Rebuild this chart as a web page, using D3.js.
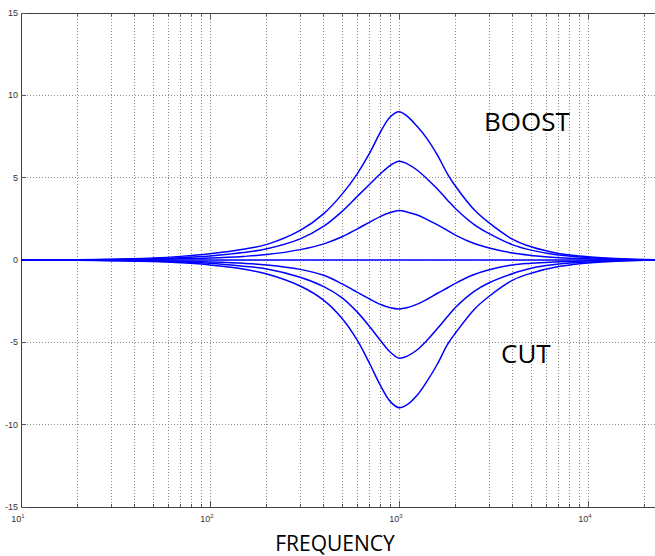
<!DOCTYPE html>
<html>
<head>
<meta charset="utf-8">
<script src="https://cdn.jsdelivr.net/npm/d3@7"></script>
<style>
  body { margin: 0; background: #fff; }
  .tick-label { font-family: "Liberation Sans", Arial, sans-serif; font-size: 9px; fill: #333; }
  .big-label { font-family: "Open Sans", "Noto Sans", sans-serif; fill: #000; }
</style>
</head>
<body>
<div id="chart"></div>
<script>
// frequency sample points (Hz)
var freqs = [10, 20, 30, 50, 70, 100, 150, 200, 300, 400, 500, 600, 700, 800, 900,
             1000, 1100, 1250, 1400, 1600, 1800, 2000, 2500, 3000, 4000, 5000, 7000, 10000, 15000, 24000];

// gain (dB) of each curve at those frequencies
var boost9 = [0, 0.02, 0.05, 0.12, 0.22, 0.38, 0.65, 0.95, 1.8, 2.82, 4.0, 5.22, 6.5, 7.8, 8.7,
              9.0, 8.75, 8.1, 7.4, 6.35, 5.25, 4.45, 3.05, 2.25, 1.25, 0.8, 0.4, 0.2, 0.08, 0];
var boost6 = [0, 0.01, 0.03, 0.07, 0.14, 0.25, 0.45, 0.68, 1.28, 2.05, 2.95, 3.85, 4.6, 5.25, 5.75,
              6.0, 5.85, 5.45, 4.95, 4.3, 3.65, 3.1, 2.15, 1.6, 0.92, 0.6, 0.3, 0.15, 0.05, 0];
var boost3 = [0, 0.01, 0.02, 0.04, 0.07, 0.12, 0.22, 0.33, 0.63, 0.98, 1.41, 1.88, 2.3, 2.65, 2.88,
              3.0, 2.92, 2.73, 2.47, 2.13, 1.8, 1.5, 1.0, 0.73, 0.42, 0.28, 0.14, 0.07, 0.03, 0];
var flat0  = [0, 0, 0, 0, 0, 0, 0, 0, 0, 0, 0, 0, 0, 0, 0,
              0, 0, 0, 0, 0, 0, 0, 0, 0, 0, 0, 0, 0, 0, 0];
var cut3   = [0, -0.01, -0.02, -0.04, -0.07, -0.12, -0.2, -0.3, -0.57, -0.93, -1.45, -1.95, -2.37, -2.7, -2.9,
              -2.97, -2.9, -2.68, -2.4, -2.02, -1.7, -1.4, -0.88, -0.59, -0.3, -0.2, -0.1, -0.05, -0.02, 0];
var cut6   = [0, -0.01, -0.03, -0.06, -0.12, -0.2, -0.38, -0.55, -1.05, -1.62, -2.3, -3.15, -4.05, -4.9, -5.6,
              -5.96, -5.85, -5.45, -4.9, -4.15, -3.45, -2.85, -1.9, -1.38, -0.82, -0.5, -0.25, -0.12, -0.04, 0];
var cut9   = [0, -0.02, -0.04, -0.09, -0.17, -0.3, -0.55, -0.85, -1.58, -2.45, -3.55, -4.85, -6.3, -7.65, -8.6,
              -8.97, -8.8, -8.2, -7.4, -6.3, -5.15, -4.4, -3.0, -2.2, -1.22, -0.8, -0.4, -0.18, -0.06, 0];

var curves = [boost9, boost6, boost3, flat0, cut3, cut6, cut9];

var yTicks = [-15, -10, -5, 0, 5, 10, 15];
var decades = [10, 100, 1000, 10000];
var decadeExp = ["1", "2", "3", "4"];

var width = 655, height = 556;
var plotLeft = 21, plotTop = 13, plotBottom = 507;
var decadePx = 189;

var svg = d3.select("#chart").append("svg")
    .attr("width", width)
    .attr("height", height);

// scales
var x = d3.scaleLog()
    .domain([10, 24000])
    .range([plotLeft, plotLeft + decadePx * Math.log10(2400)]);

var y = d3.scaleLinear()
    .domain([-15, 15])
    .range([plotBottom, plotTop]);

// minor grid positions 20..90, 200..900, ...
var gridFreqs = [];
decades.forEach(function(d) {
    for (var k = 1; k <= 9; k++) {
        var f = d * k;
        if (f > 10 && f < 24000) gridFreqs.push(f);
    }
});

// vertical dotted grid
svg.append("g").selectAll("line")
    .data(gridFreqs)
    .enter().append("line")
    .attr("x1", function(d) { return x(d); })
    .attr("x2", function(d) { return x(d); })
    .attr("y1", plotTop)
    .attr("y2", plotBottom)
    .attr("stroke", "#8c8c8c")
    .attr("stroke-width", 1)
    .attr("stroke-dasharray", "1,2")
    .attr("shape-rendering", "crispEdges");

// horizontal dotted grid
svg.append("g").selectAll("line")
    .data(yTicks.filter(function(d) { return Math.abs(d) < 15; }))
    .enter().append("line")
    .attr("x1", plotLeft)
    .attr("x2", width)
    .attr("y1", function(d) { return y(d); })
    .attr("y2", function(d) { return y(d); })
    .attr("stroke", "#8c8c8c")
    .attr("stroke-width", 1)
    .attr("stroke-dasharray", "1,2")
    .attr("shape-rendering", "crispEdges");

// axis lines (box, right edge is off the picture)
svg.append("line")
    .attr("x1", plotLeft).attr("x2", width)
    .attr("y1", plotTop).attr("y2", plotTop)
    .attr("stroke", "#404040").attr("shape-rendering", "crispEdges");
svg.append("line")
    .attr("x1", plotLeft).attr("x2", width)
    .attr("y1", plotBottom).attr("y2", plotBottom)
    .attr("stroke", "#404040").attr("shape-rendering", "crispEdges");
svg.append("line")
    .attr("x1", plotLeft).attr("x2", plotLeft)
    .attr("y1", plotTop).attr("y2", plotBottom)
    .attr("stroke", "#404040").attr("shape-rendering", "crispEdges");

// inward ticks, top and bottom
var tickData = gridFreqs.concat(decades.slice(1));
[plotTop, plotBottom].forEach(function(edge, i) {
    var dir = i === 0 ? 1 : -1;
    svg.append("g").selectAll("line")
        .data(tickData)
        .enter().append("line")
        .attr("x1", function(d) { return x(d); })
        .attr("x2", function(d) { return x(d); })
        .attr("y1", edge)
        .attr("y2", function(d) { return edge + dir * (decades.indexOf(d) >= 0 ? 6 : 3); })
        .attr("stroke", "#555")
        .attr("shape-rendering", "crispEdges");
});

// left ticks
svg.append("g").selectAll("line")
    .data(yTicks)
    .enter().append("line")
    .attr("x1", plotLeft)
    .attr("x2", plotLeft + 5)
    .attr("y1", function(d) { return y(d); })
    .attr("y2", function(d) { return y(d); })
    .attr("stroke", "#555")
    .attr("shape-rendering", "crispEdges");

// y tick labels
svg.append("g").selectAll("text")
    .data(yTicks)
    .enter().append("text")
    .attr("class", "tick-label")
    .attr("x", plotLeft - 3)
    .attr("y", function(d) { return y(d) + 3; })
    .attr("text-anchor", "end")
    .text(function(d) { return d; });

// x tick labels, 10^n
var xLab = svg.append("g").selectAll("text")
    .data(decades)
    .enter().append("text")
    .attr("class", "tick-label")
    .attr("x", function(d) { return x(d) - 3; })
    .attr("y", plotBottom + 15)
    .attr("text-anchor", "middle")
    .text("10");
xLab.append("tspan")
    .attr("dy", -4)
    .attr("font-size", "6px")
    .text(function(d, i) { return decadeExp[i]; });

// response curves
var line = d3.line()
    .x(function(d) { return x(d[0]); })
    .y(function(d) { return y(d[1]); })
    .curve(d3.curveCatmullRom.alpha(0.5));

svg.append("g").selectAll("path")
    .data(curves)
    .enter().append("path")
    .attr("d", function(c) { return line(freqs.map(function(f, i) { return [f, c[i]]; })); })
    .attr("fill", "none")
    .attr("stroke", "#0000ff")
    .attr("stroke-width", 1.5);

// annotations
svg.append("text")
    .attr("class", "big-label")
    .attr("x", 484)
    .attr("y", 131)
    .attr("font-size", "26px")
    .text("BOOST");

svg.append("text")
    .attr("class", "big-label")
    .attr("x", 501)
    .attr("y", 363)
    .attr("font-size", "26px")
    .text("CUT");

svg.append("text")
    .attr("class", "big-label")
    .attr("x", 335)
    .attr("y", 551)
    .attr("text-anchor", "middle")
    .attr("font-size", "21px")
    .text("FREQUENCY");
</script>
</body>
</html>
